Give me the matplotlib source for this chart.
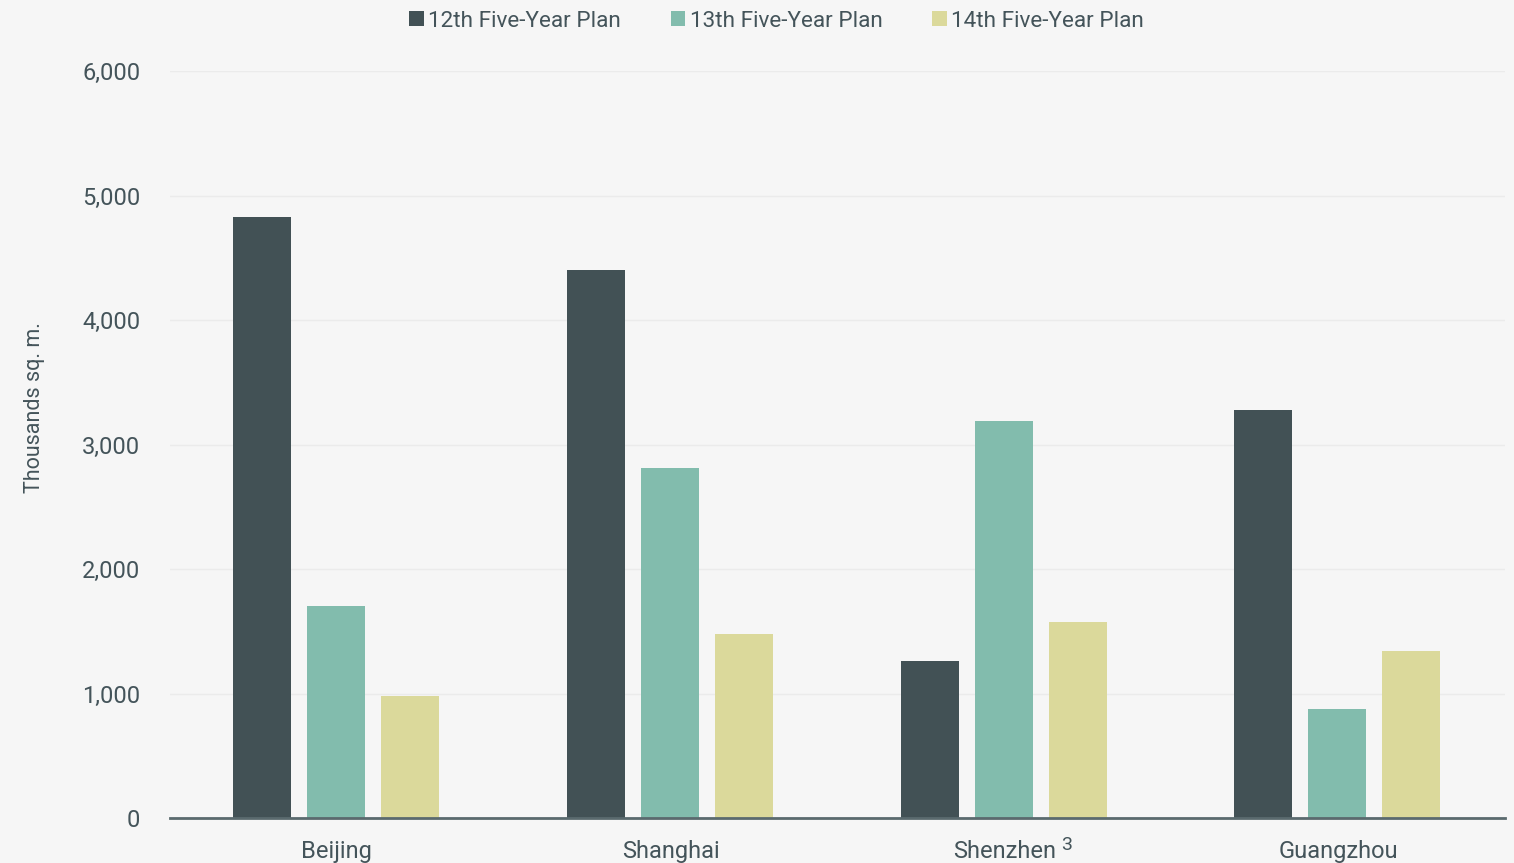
import matplotlib.pyplot as plt
import numpy as np

cities = ["Beijing", "Shanghai", "Shenzhen", "Guangzhou"]
plans = ["12th Five-Year Plan", "13th Five-Year Plan", "14th Five-Year Plan"]
plan_12 = [4830, 4400, 1260, 3280]
plan_13 = [1700, 2810, 3190, 875]
plan_14 = [980, 1480, 1575, 1340]
yticks = [0, 1000, 2000, 3000, 4000, 5000, 6000]

colors = ["#425155", "#82bcad", "#dbd99b"]
bg = "#f6f6f6"
txt = "#44545a"

plt.rcParams['font.family'] = ['Roboto', 'DejaVu Sans']

fig = plt.figure(figsize=(15.14, 8.63), dpi=100, facecolor=bg)
ax = fig.add_axes([0.1123, 0.0521, 0.8817, 0.8656], facecolor=bg)

x = np.arange(len(cities))
w = 0.174
off = 0.2216
for i, (vals, lab) in enumerate(zip([plan_12, plan_13, plan_14], plans)):
    ax.bar(x + (i - 1) * off - 0.002, vals, width=w, color=colors[i], label=lab, zorder=3)

ax.set_xlim(-0.5, 3.5)
ax.set_ylim(0, 6000)
ax.set_yticks(yticks)
ax.set_yticklabels([f"{v:,}" for v in yticks])
ax.set_xticks(x)
ax.set_xticklabels(cities)
ax.tick_params(axis='both', length=0, labelsize=17, colors=txt)
ax.tick_params(axis='x', pad=16)
ax.tick_params(axis='y', pad=21.5)
ax.grid(axis='y', color="#ebebeb", linewidth=1, zorder=0)

for s in ['top', 'right', 'left']:
    ax.spines[s].set_visible(False)
ax.spines['bottom'].set_color("#5a6a6e")
ax.spines['bottom'].set_linewidth(2)
ax.spines['bottom'].set_zorder(4)

ax.set_ylabel("Thousands sq. m.", fontsize=15.5, color=txt)
ax.yaxis.set_label_coords(-0.094, 0.55)

# superscript note on Shenzhen
ax.annotate("3", xy=(2, 0), xycoords=('data', 'axes fraction'),
            xytext=(41, -13), textcoords='offset points',
            fontsize=14, color=txt, ha='left', va='top')

fig.legend(loc='upper center', bbox_to_anchor=(0.513, 1.011), ncol=3, frameon=False,
           fontsize=16.2, labelcolor=txt, handlelength=0.65, handleheight=0.65,
           handletextpad=0.2, columnspacing=2.2)

fig.savefig("out.png", dpi=100, facecolor=bg)
